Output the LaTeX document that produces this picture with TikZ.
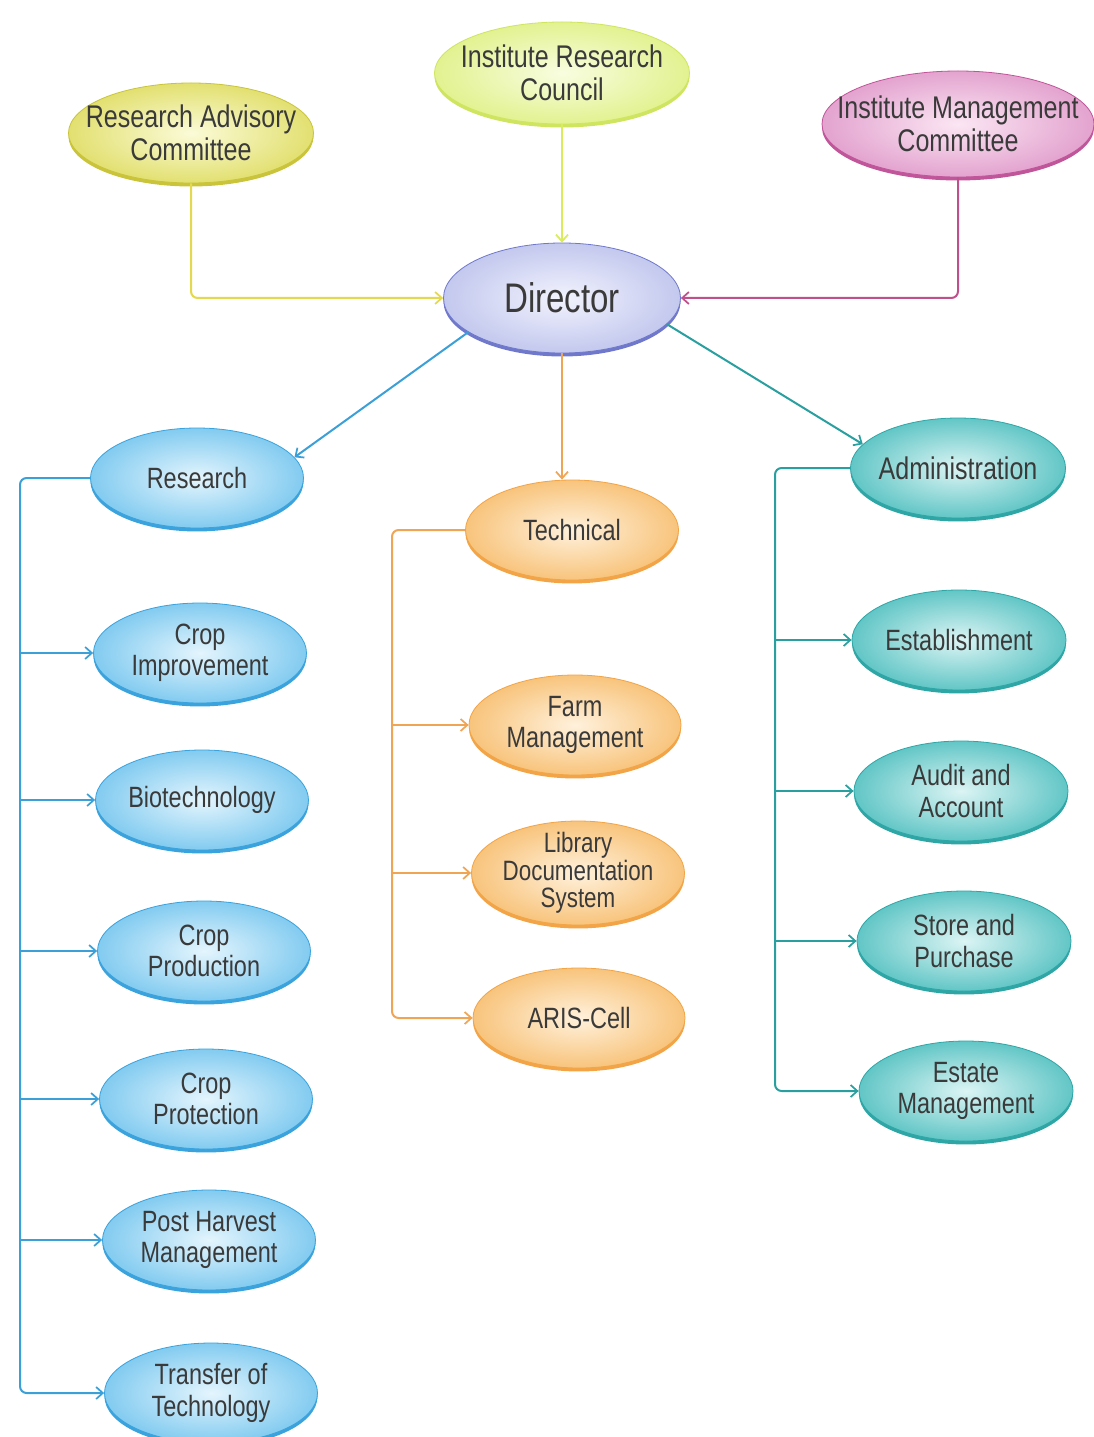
\documentclass[tikz,border=0pt]{standalone}
\usepackage{fontspec}
\setmainfont{Liberation Sans}[FakeStretch=0.8]
\usetikzlibrary{shapes.geometric,arrows.meta,shadows}
\definecolor{txt}{HTML}{3A3A3A}
\definecolor{racin}{HTML}{FBFBD8}\definecolor{racout}{HTML}{E2E070}\definecolor{racrim}{HTML}{C9C43A}\definecolor{racline}{HTML}{E3D84E}
\definecolor{ircin}{HTML}{F8FDE0}\definecolor{ircout}{HTML}{E2F290}\definecolor{ircrim}{HTML}{CFE560}\definecolor{ircline}{HTML}{D9EC5C}
\definecolor{imcin}{HTML}{FBE6F3}\definecolor{imcout}{HTML}{E3A3CF}\definecolor{imcrim}{HTML}{C1559A}\definecolor{imcline}{HTML}{C0508C}
\definecolor{dirin}{HTML}{F2F3FD}\definecolor{dirout}{HTML}{C3C8EE}\definecolor{dirrim}{HTML}{7078CC}
\definecolor{bluin}{HTML}{E4F5FD}\definecolor{bluout}{HTML}{82CBF0}\definecolor{blurim}{HTML}{3AA2DC}\definecolor{bluline}{HTML}{3BA0D8}
\definecolor{orgin}{HTML}{FFF1DC}\definecolor{orgout}{HTML}{F8C47C}\definecolor{orgrim}{HTML}{F2A446}\definecolor{orgline}{HTML}{F0A555}
\definecolor{tealin}{HTML}{DCF4F4}\definecolor{tealout}{HTML}{62C6C6}\definecolor{tealrim}{HTML}{2FA6A6}\definecolor{tealline}{HTML}{2A9F9F}
\tikzset{
  lbl/.style={inner sep=0pt, align=center, text=txt, font=\fontsize{22}{23.5}\selectfont},
  bubble/.style={ellipse, inner sep=0pt},
  sz/.style 2 args={minimum width=#1*0.75pt, minimum height=#2*0.75pt},
  grp/.style n args={3}{bubble, inner color=#1, outer color=#2, draw=#3, line width=0.6pt,
    general shadow={fill=#3, shadow yshift=-2.6pt}},
  racb/.style={grp={racin}{racout}{racrim}},
  ircb/.style={grp={ircin}{ircout}{ircrim}},
  imcb/.style={grp={imcin}{imcout}{imcrim}},
  dirb/.style={grp={dirin}{dirout}{dirrim}},
  blub/.style={grp={bluin}{bluout}{blurim}},
  orgb/.style={grp={orgin}{orgout}{orgrim}},
  tealb/.style={grp={tealin}{tealout}{tealrim}},
  conn/.style={line width=1.5pt, rounded corners=5pt},
  arr/.style={conn, -{Straight Barb[length=5pt,width=9pt,line width=1.3pt]}},
}
\begin{document}
\begin{tikzpicture}[x=0.75pt,y=-0.75pt]
\useasboundingbox (0,0) rectangle (1094,1437);
\fill[white] (0,0) rectangle (1094,1437);
% top
\node[racb, sz={245}{100}] (rac) at (191,133) {};
\node[lbl, font=\fontsize{23.5}{24.5}\selectfont] (rac-t) at (rac) {Research Advisory\\Committee};
\node[ircb, sz={255}{102}] (irc) at (562,73) {};
\node[lbl, font=\fontsize{23.5}{24.5}\selectfont] (irc-t) at (irc) {Institute Research\\Council};
\node[imcb, sz={272}{106}] (imc) at (958,124) {};
\node[lbl, font=\fontsize{23.5}{24.5}\selectfont] (imc-t) at (imc) {Institute Management\\Committee};
\node[dirb, sz={237}{110}] (dir) at (562,298) {};
\node[lbl, font=\fontsize{31}{30}\selectfont] (dir-t) at (dir) {Director};
% level 2
\node[blub, sz={213}{100}] (res) at (197,478) {};
\node[lbl] (res-t) at (res) {Research};
\node[orgb, sz={213}{100}] (tech) at (572,530) {};
\node[lbl] (tech-t) at (tech) {Technical};
\node[tealb, sz={215}{100}] (adm) at (958,468) {};
\node[lbl, font=\fontsize{23.5}{24}\selectfont] (adm-t) at (adm) {Administration};
% research children
\node[blub, sz={213}{100}] (ci) at (200,653) {};
\node[lbl] (ci-t) at (ci) {Crop\\Improvement};
\node[blub, sz={213}{100}] (bio) at (202,800) {};
\node[lbl] (bio-t) at (bio) {Biotechnology};
\node[blub, sz={213}{100}] (cpd) at (204,951) {};
\node[lbl] (cpd-t) at (cpd) {Crop\\Production};
\node[blub, sz={213}{100}] (cpt) at (206,1099) {};
\node[lbl] (cpt-t) at (cpt) {Crop\\Protection};
\node[blub, sz={213}{100}] (phm) at (209,1240) {};
\node[lbl] (phm-t) at (phm) {Post Harvest\\Management};
\node[blub, sz={213}{100}] (tot) at (211,1393) {};
\node[lbl] (tot-t) at (tot) {Transfer of\\Technology};
% technical children
\node[orgb, sz={212}{100}] (fm) at (575,725) {};
\node[lbl] (fm-t) at (fm) {Farm\\Management};
\node[orgb, sz={213}{104}] (lib) at (578,873) {};
\node[lbl, font=\fontsize{21}{20.5}\selectfont] (lib-t) at (lib) {Library\\Documentation\\System};
\node[orgb, sz={212}{100}] (aris) at (579,1018) {};
\node[lbl] (aris-t) at (aris) {ARIS-Cell};
% admin children
\node[tealb, sz={214}{100}] (est) at (959,640) {};
\node[lbl] (est-t) at (est) {Establishment};
\node[tealb, sz={214}{100}] (aud) at (961,791) {};
\node[lbl] (aud-t) at (aud) {Audit and\\Account};
\node[tealb, sz={214}{100}] (stp) at (964,941) {};
\node[lbl] (stp-t) at (stp) {Store and\\Purchase};
\node[tealb, sz={214}{100}] (esm) at (966,1091) {};
\node[lbl] (esm-t) at (esm) {Estate\\Management};
% trunk coordinates
\coordinate (rtr) at (20,0);
\coordinate (ttr) at (392,0);
\coordinate (atr) at (775,0);
% connectors to director
\draw[arr, draw=racline] (rac.south) |- (dir.west);
\draw[arr, draw=ircline] (irc.south) -- (dir.north);
\draw[arr, draw=imcline] (imc.south) |- (dir.east);
% director to departments
\draw[arr, draw=bluline] (dir.200) -- (res.12);
\draw[arr, draw=orgline] (dir.south) -- (dir.south |- tech.north);
\draw[arr, draw=tealline] (dir.346) -- (adm.166);
% research tree
\draw[arr, draw=bluline] (res.west) -| (tot.west -| rtr) -- (tot.west);
\foreach \n in {ci,bio,cpd,cpt,phm}
  \draw[arr, draw=bluline] (\n.west -| rtr) -- (\n.west);
% technical tree
\draw[arr, draw=orgline] (tech.west) -| (aris.west -| ttr) -- (aris.west);
\foreach \n in {fm,lib}
  \draw[arr, draw=orgline] (\n.west -| ttr) -- (\n.west);
% admin tree
\draw[arr, draw=tealline] (adm.west) -| (esm.west -| atr) -- (esm.west);
\foreach \n in {est,aud,stp}
  \draw[arr, draw=tealline] (\n.west -| atr) -- (\n.west);
\end{tikzpicture}
\end{document}
